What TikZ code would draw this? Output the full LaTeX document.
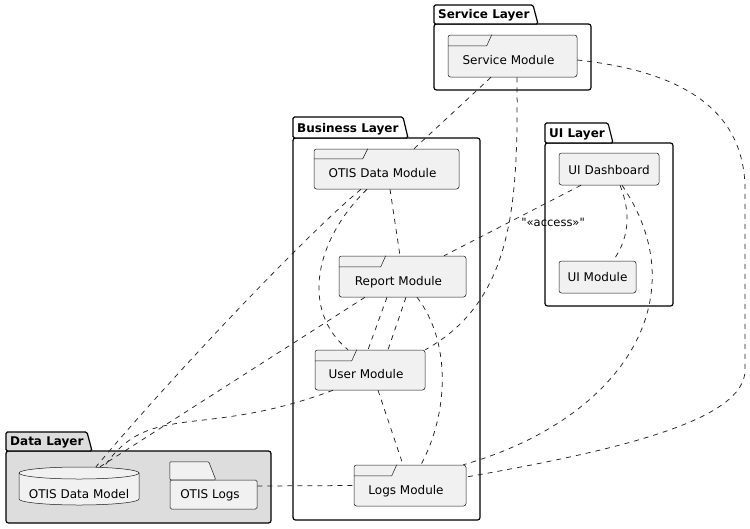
\documentclass[tikz,border=0pt]{standalone}
\usepackage{fontspec}
\setmainfont{DejaVu Sans}
\newfontfamily\accfont{DejaVu Sans}
\definecolor{modfill}{HTML}{F1F1F1}
\definecolor{modline}{HTML}{181818}
\definecolor{datafill}{HTML}{DDDDDD}
\definecolor{connc}{HTML}{222222}
\tikzset{
  mod/.style={draw=modline, fill=modfill, line width=0.5pt, rounded corners=2.5pt,
    inner sep=0pt, text height=8.75pt, text depth=0pt, font=\fontsize{12}{14}\selectfont},
  plainbox/.style={inner sep=0pt, text height=8.75pt, text depth=0pt, font=\fontsize{12}{14}\selectfont},
  modshape/.style={draw=modline, fill=modfill, line width=0.5pt},
  tabline/.style={draw=modline, line width=0.5pt},
  pkg/.style={draw=black, line width=1.2pt},
  pkglabel/.style={font=\bfseries\fontsize{12}{14}\selectfont, inner sep=0pt, anchor=base west},
  conn/.style={draw=connc, line width=0.75pt, dash pattern=on 5pt off 5pt},
  acclabel/.style={font=\accfont\fontsize{11.5}{13}\selectfont, inner sep=1pt}
}
% #1 x1, #2 tab top, #3 body top, #4 tab end, #5 x2, #6 y2, #7 label, #8 fill, #9 name
\newcommand\pkgbox[9]{%
  \filldraw[pkg,fill=#8,rounded corners=2.5pt] (#1,#3) rectangle (#5,#6);
  \filldraw[pkg,fill=#8,rounded corners=1.5pt] (#1,#3) -- (#1,#2) -- (#4,#2) -- ({#4+5},#3) -- cycle;
  \node[pkglabel] (#9) at ({#1+4},{#3-6}) {#7};
}
% #1 node, #2 tab depth, #3 tab width
\newcommand\frametab[3]{%
  \draw[tabline] ([yshift=-#2]#1.north west) -- ([xshift=#3,yshift=-#2]#1.north west) -- ([xshift=#3+5pt]#1.north west);
}
\begin{document}
\begin{tikzpicture}[x=1pt,y=-1pt]
\useasboundingbox (0,0) rectangle (750,528);

% packages
\pkgbox{434}{5}{24}{533}{591}{90}{Service Layer}{white}{slabel}
\pkgbox{293}{117}{138}{403}{480}{520}{Business Layer}{white}{blabel}
\pkgbox{545}{123}{143}{608}{673}{306}{UI Layer}{white}{ulabel}
\pkgbox{6}{432}{451}{87}{271}{523}{Data Layer}{datafill}{dlabel}

% modules (frames)
\node[mod, minimum width=129pt, minimum height=42pt] (sm) at (512.5,56) {\raisebox{-4pt}{\hspace*{-8pt}Service Module}};
\frametab{sm}{11pt}{39pt}
\node[mod, minimum width=145pt, minimum height=40pt] (odm) at (386.5,169) {\raisebox{-4pt}{\hspace*{-8pt}OTIS Data Module}};
\frametab{odm}{10pt}{49pt}
\node[mod, minimum width=127pt, minimum height=41pt] (rm) at (402.5,276.5) {\raisebox{-4.5pt}{\hspace*{-8pt}Report Module}};
\frametab{rm}{11pt}{42pt}
\node[mod, minimum width=110pt, minimum height=40pt] (um) at (370,370) {\raisebox{-4pt}{\hspace*{-8pt}User Module}};
\frametab{um}{11pt}{37pt}
\node[mod, minimum width=112pt, minimum height=41pt] (lm) at (410,485.5) {\raisebox{-4.5pt}{\hspace*{-8pt}Logs Module}};
\frametab{lm}{11pt}{38pt}

% UI rectangles
\node[mod, minimum width=100pt, minimum height=32pt] (uid) at (609,169) {\raisebox{-1pt}{UI Dashboard}};
\node[mod, minimum width=77pt, minimum height=32pt] (uim) at (597.5,277) {UI Module};

% database cylinder
\filldraw[modshape] (19,473) -- (19,499) arc[start angle=180, end angle=360, x radius=60pt, y radius=6pt]
  -- (139,473) arc[start angle=0, end angle=180, x radius=60pt, y radius=6pt] -- cycle;
\draw[tabline] (19,473) arc[start angle=180, end angle=360, x radius=60pt, y radius=6pt];
\node[plainbox, minimum width=120pt, minimum height=38pt] (dm) at (79,486) {\raisebox{-8pt}{OTIS Data Model}};

% folder
\node[mod, rounded corners=1.5pt, minimum width=87pt, minimum height=29pt] (ol) at (213.5,494.5) {\hspace*{-7pt}OTIS Logs};
\filldraw[modshape, rounded corners=1pt] (ol.north west) -- ([yshift=18pt]ol.north west) -- ([xshift=39pt,yshift=18pt]ol.north west) -- ([xshift=46pt]ol.north west) -- cycle;

% connectors
\coordinate (r1) at (745,190);
\coordinate (r2) at (745,370);
\draw[conn] ([xshift=-21.5pt]sm.south) -- ([xshift=27.5pt]odm.north);
\draw[conn] ([xshift=4.5pt]sm.south) .. controls (518,200) and (515,300) .. (um.north east);
\draw[conn] ([yshift=-4pt]sm.east) .. controls (690,72) and (745,115) .. (r1) -- (r2)
  .. controls (745,420) and (620,450) .. ([yshift=8.5pt]lm.east);
\draw[conn] ([xshift=-28pt]uid.south) -- node[acclabel, pos=0.445, anchor=north west] (acc) {"«access»"} ([xshift=41.5pt]rm.north);
\draw[conn] ([xshift=11pt]uid.south) .. controls (632,215) and (628,240) .. ([xshift=15.5pt]uim.north);
\draw[conn] ([xshift=13pt]uid.south) .. controls (700,300) and (620,420) .. ([xshift=-3pt]lm.north east);
\draw[conn] ([xshift=3.5pt]odm.south) -- ([xshift=-2.5pt]rm.north);
\draw[conn] ([xshift=-19.5pt]odm.south) .. controls (315,240) and (300,310) .. ([xshift=-22pt]um.north);
\draw[conn] ([xshift=-25.5pt]odm.south) .. controls (300,240) and (160,390) .. ([xshift=17pt]dm.north);
\draw[conn] ([xshift=-37.5pt]rm.south) -- ([xshift=21pt]dm.north);
\draw[conn] ([xshift=-15.5pt]rm.south) -- ([xshift=-2pt]um.north);
\draw[conn] ([xshift=3.5pt]rm.south) -- ([xshift=18pt]um.north);
\draw[conn] ([xshift=14.5pt]rm.south) .. controls (450,340) and (450,410) .. ([xshift=11pt]lm.north);
\draw[conn] ([xshift=-37pt]um.south) .. controls (200,440) and (150,400) .. ([xshift=25pt]dm.north);
\draw[conn] ([xshift=8pt]um.south) -- ([xshift=-7pt]lm.north);
\draw[conn] ([yshift=8.5pt]ol.east) -- (lm.west);
\end{tikzpicture}
\end{document}
